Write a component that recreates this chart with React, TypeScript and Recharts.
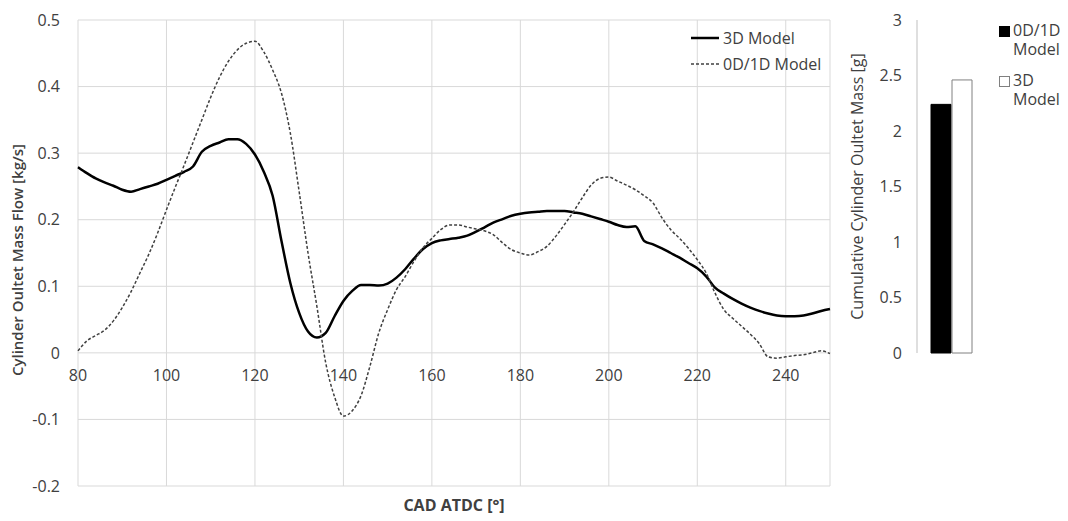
import React from 'react';
import { LineChart, Line, XAxis, YAxis, CartesianGrid, BarChart, Bar } from 'recharts';

// crank angle after TDC [deg]
const cadAngles = [
  80, 82, 84, 86, 88, 90, 92, 94, 96, 98,
  100, 102, 104, 106, 108, 110, 112, 114, 116, 118,
  120, 122, 124, 126, 128, 130, 132, 134, 136, 138,
  140, 142, 144, 146, 148, 150, 152, 154, 156, 158,
  160, 162, 164, 166, 168, 170, 172, 174, 176, 178,
  180, 182, 184, 186, 188, 190, 192, 194, 196, 198,
  200, 202, 204, 206, 208, 210, 212, 214, 216, 218,
  220, 222, 224, 226, 228, 230, 232, 234, 236, 238,
  240, 242, 244, 246, 248, 250,
];

// cylinder outlet mass flow [kg/s]
const flow3D = [
  0.279, 0.270, 0.262, 0.256, 0.251, 0.245, 0.242, 0.246, 0.250, 0.254,
  0.260, 0.266, 0.272, 0.280, 0.302, 0.311, 0.316, 0.321, 0.321, 0.314,
  0.298, 0.272, 0.236, 0.168, 0.105, 0.060, 0.032, 0.023, 0.030, 0.055,
  0.078, 0.093, 0.102, 0.102, 0.101, 0.104, 0.113, 0.126, 0.142, 0.156,
  0.165, 0.169, 0.171, 0.173, 0.176, 0.182, 0.189, 0.196, 0.201, 0.206,
  0.209, 0.211, 0.212, 0.213, 0.213, 0.213, 0.211, 0.209, 0.205, 0.201,
  0.197, 0.192, 0.189, 0.190, 0.168, 0.163, 0.157, 0.150, 0.143, 0.135,
  0.127, 0.115, 0.098, 0.089, 0.081, 0.074, 0.068, 0.063, 0.059, 0.056,
  0.055, 0.055, 0.056, 0.059, 0.063, 0.066,
];

const flow0D1D = [
  0.003, 0.018, 0.026, 0.034, 0.048, 0.068, 0.092, 0.120, 0.148, 0.180,
  0.215, 0.249, 0.282, 0.316, 0.350, 0.384, 0.414, 0.438, 0.455, 0.465,
  0.468, 0.452, 0.425, 0.390, 0.330, 0.242, 0.150, 0.070, -0.015, -0.066,
  -0.095, -0.087, -0.064, -0.020, 0.030, 0.065, 0.095, 0.115, 0.138, 0.158,
  0.172, 0.185, 0.192, 0.192, 0.189, 0.186, 0.183, 0.177, 0.165, 0.155,
  0.150, 0.147, 0.152, 0.160, 0.175, 0.193, 0.212, 0.233, 0.252, 0.262,
  0.264, 0.258, 0.252, 0.245, 0.236, 0.225, 0.203, 0.185, 0.172, 0.157,
  0.140, 0.120, 0.090, 0.065, 0.052, 0.040, 0.028, 0.014, -0.006, -0.008,
  -0.006, -0.004, -0.003, 0.000, 0.003, -0.001,
];

const lineNames = ['3D Model', '0D/1D Model'];
const cadTicks = [80, 100, 120, 140, 160, 180, 200, 220, 240];
const flowTicks = [-0.2, -0.1, 0, 0.1, 0.2, 0.3, 0.4, 0.5];

// cumulative outlet mass [g]
const massNames = ['0D/1D Model', '3D Model'];
const massValues = [2.24, 2.46];
const massTicks = [0, 0.5, 1, 1.5, 2, 2.5, 3];

const TEXT = '#404040';
const GRID = '#d9d9d9';
const FONT = '"Open Sans", sans-serif';

const flowData = cadAngles.map((cad, i) => ({ cad, m3d: flow3D[i], m0d: flow0D1D[i] }));
const massData = [{ group: 'mass', m0d: massValues[0], m3d: massValues[1] }];

// plot box of the line chart
const LC_H = 521;
const LC_TOP = 20;
const LC_BOTTOM = 5;
const LC_XAXIS_H = 30;
const PLOT_H = LC_H - LC_TOP - LC_BOTTOM - LC_XAXIS_H;
const Y_MIN = -0.2;
const Y_MAX = 0.5;
const ZERO_FROM_BOTTOM = (PLOT_H * (0 - Y_MIN)) / (Y_MAX - Y_MIN);

// excel puts the category labels right under the zero line
const CadTick = (props: any) => {
  const { x, y, payload } = props;
  return (
    <text x={x} y={y - ZERO_FROM_BOTTOM + 23} dy="0.35em" textAnchor="middle" fill={TEXT} fontSize={16}>
      {payload.value}
    </text>
  );
};

// rotated axis title, nudged a bit below the plot centre like the original
const FlowTitle = (props: any) => {
  const { viewBox } = props;
  const cx = 18;
  const cy = viewBox.y + viewBox.height / 2 + 7;
  return (
    <text x={cx} y={cy} transform={`rotate(-90, ${cx}, ${cy})`} textAnchor="middle" dy="0.35em"
      fill={TEXT} fontSize={15} fontWeight={600}>
      Cylinder Oultet Mass Flow [kg/s]
    </text>
  );
};

function FlowLegend() {
  const dashes = [undefined, '3 2'];
  const widths = [2.5, 1.5];
  return (
    <div style={{ position: 'absolute', left: 690, top: 25, fontSize: 16, color: TEXT }}>
      {lineNames.map((name, i) => (
        <div key={name} style={{ display: 'flex', alignItems: 'center', height: 26 }}>
          <svg width={30} height={10}>
            <line x1={1} y1={5} x2={29} y2={5} stroke={i === 0 ? '#000' : '#404040'}
              strokeWidth={widths[i]} strokeDasharray={dashes[i]} />
          </svg>
          <span style={{ marginLeft: 3 }}>{name}</span>
        </div>
      ))}
    </div>
  );
}

function MassLegend() {
  const fills = ['#000', '#fff'];
  const borders = ['#000', '#808080'];
  return (
    <div style={{ position: 'absolute', left: 999, top: 21, fontSize: 16, color: TEXT, lineHeight: '19px' }}>
      {massNames.map((name, i) => (
        <div key={name} style={{ display: 'flex', alignItems: 'flex-start', marginBottom: 12 }}>
          <div style={{ width: 9, height: 9, marginTop: 5, background: fills[i], border: `1px solid ${borders[i]}` }} />
          <span style={{ marginLeft: 3, width: 52 }}>{name}</span>
        </div>
      ))}
    </div>
  );
}

export default function App() {
  return (
    <div style={{ position: 'absolute', left: 0, top: 0, width: 1068, height: 521, background: '#fff', fontFamily: FONT }}>
      <div style={{ position: 'absolute', left: 0, top: 0 }}>
        <LineChart width={850} height={LC_H} data={flowData}
          margin={{ top: LC_TOP, right: 20, bottom: LC_BOTTOM, left: 0 }}>
          <CartesianGrid stroke={GRID} strokeWidth={1} />
          <XAxis dataKey="cad" type="number" domain={[80, 250]} ticks={cadTicks} height={LC_XAXIS_H}
            axisLine={false} tickLine={false} tickSize={0} tickMargin={0} tick={<CadTick />} interval={0}
            label={{ value: 'CAD ATDC [°]', position: 'insideBottom', offset: 5, fill: TEXT, fontSize: 16, fontWeight: 700 }} />
          <YAxis type="number" domain={[Y_MIN, Y_MAX]} ticks={flowTicks} width={78} interval={0}
            axisLine={false} tickLine={false} tickSize={0} tickMargin={18}
            tick={{ fill: TEXT, fontSize: 16 }}
            label={<FlowTitle />} />
          <Line dataKey="m3d" name={lineNames[0]} type="monotone" stroke="#000" strokeWidth={2.5}
            dot={false} isAnimationActive={false} />
          <Line dataKey="m0d" name={lineNames[1]} type="monotone" stroke="#404040" strokeWidth={1.5}
            strokeDasharray="3 2" dot={false} isAnimationActive={false} />
        </LineChart>
      </div>
      <FlowLegend />
      <div style={{ position: 'absolute', left: 840, top: 0 }}>
        <BarChart width={228} height={521} data={massData} barSize={20} barGap={1}
          margin={{ top: 20, right: 83, bottom: 168, left: 0 }}>
          <XAxis dataKey="group" height={0} tick={false} tickLine={false} axisLine={{ stroke: '#bfbfbf' }} />
          <YAxis type="number" domain={[0, 3]} ticks={massTicks} width={77} interval={0}
            axisLine={{ stroke: '#bfbfbf' }} tickLine={false} tickSize={0} tickMargin={15}
            tick={{ fill: TEXT, fontSize: 16 }}
            label={{ value: 'Cumulative Cylinder Oultet Mass [g]', angle: -90, position: 'insideLeft', offset: 17,
              fill: TEXT, fontSize: 16, style: { textAnchor: 'middle' } }} />
          <Bar dataKey="m0d" name={massNames[0]} fill="#000" stroke="#000" isAnimationActive={false} />
          <Bar dataKey="m3d" name={massNames[1]} fill="#fff" stroke="#808080" isAnimationActive={false} />
        </BarChart>
      </div>
      <MassLegend />
    </div>
  );
}
